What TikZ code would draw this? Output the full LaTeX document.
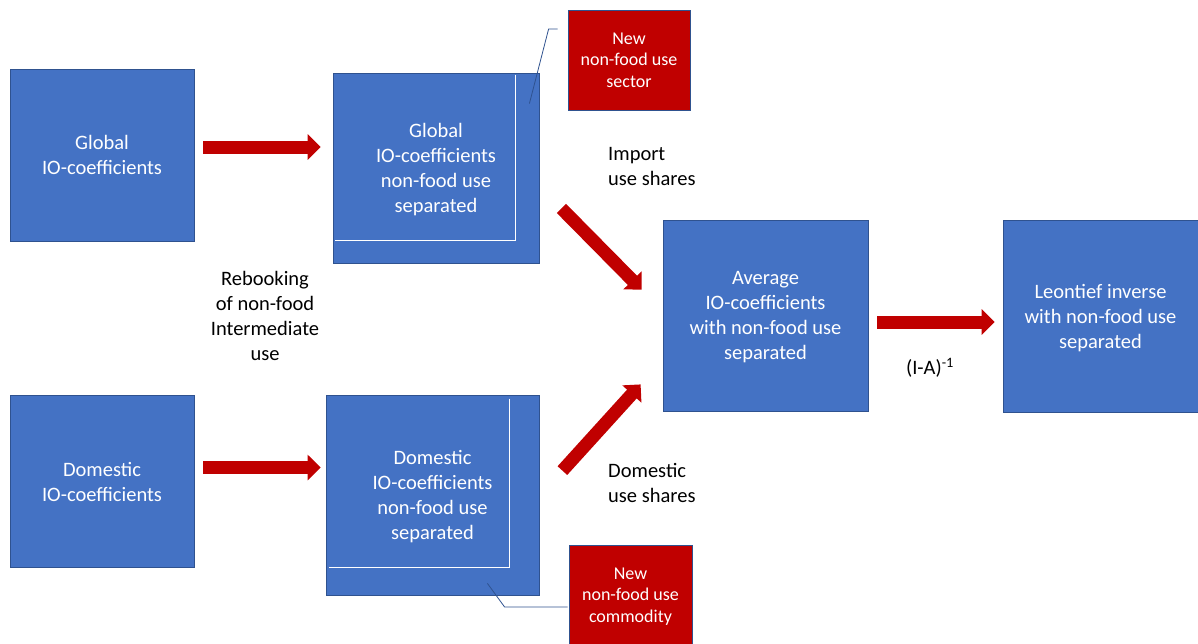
\documentclass[tikz,border=0pt]{standalone}
\usepackage{fontspec}
\setmainfont{Carlito}
\usepackage{tikz}
\usetikzlibrary{arrows.meta,positioning,calc}
\definecolor{iofill}{HTML}{4472C4}
\definecolor{iodraw}{HTML}{2F528F}
\definecolor{newred}{HTML}{C00000}
\definecolor{ink}{HTML}{000000}
\tikzset{
  iobox/.style={rectangle,draw=iodraw,line width=0.8pt,fill=iofill,text=white,
    align=center,font=\fontsize{20.5}{25}\selectfont,inner sep=0pt,text depth=0pt},
  newbox/.style={rectangle,draw=iodraw,line width=0.8pt,fill=newred,text=white,
    align=center,font=\fontsize{18}{21.5}\selectfont,inner sep=0pt,text depth=0pt,
    minimum width=122pt,minimum height=100pt},
  ioarr/.style={-{Triangle[length=13pt,width=25pt]},line width=13pt,color=newred},
  iolabel/.style={font=\fontsize{20.5}{25}\selectfont,text=ink,align=center,inner sep=0pt},
  sepline/.style={draw=white,line width=1pt},
  calloutline/.style={draw=iodraw,line width=0.8pt},
}
\begin{document}
\begin{tikzpicture}[x=1pt,y=-1pt]
  \useasboundingbox (0,0) rectangle (1198,643);
  % IO boxes
  \node[iobox,minimum width=184pt,minimum height=172pt] (glob) at (102,155) {Global\\IO-coefficients};
  \node[iobox,minimum width=184pt,minimum height=172pt] (dom) at (102,481.5) {Domestic\\IO-coefficients};
  \node[iobox,minimum width=206pt,minimum height=190pt] (gsep) at (436,168) {Global\\IO-coefficients\\non-food use\\separated};
  \node[iobox,minimum width=213pt,minimum height=200pt] (dsep) at (432.5,495) {Domestic\\IO-coefficients\\non-food use\\separated};
  \node[iobox,minimum width=205pt,minimum height=191pt] (avg) at (765.5,315.5) {Average\\IO-coefficients\\with non-food use\\separated};
  \node[iobox,minimum width=195pt,minimum height=192pt] (leon) at (1100.5,316) {Leontief inverse\\with non-food use\\separated};
  % inner lines of the separated blocks
  \draw[sepline] ([shift={(-24,2)}]gsep.north east) |- ([shift={(2,-23)}]gsep.south west);
  \draw[sepline] ([shift={(-30,4)}]dsep.north east) |- ([shift={(3,-28)}]dsep.south west);
  % new sector and commodity
  \node[newbox] (newsec) at (629,60) {New\\non-food use\\sector};
  \node[newbox,minimum width=123pt] (newcom) at (630.5,595) {New\\non-food use\\commodity};
  \draw[calloutline] ([shift={(-10,31)}]gsep.north east) -- ([shift={(-19,-31)}]newsec.west)
    -- ([shift={(-10,-31)}]newsec.west);
  \draw[calloutline] ([shift={(-52,-12)}]dsep.south east) -- ([shift={(-64,12)}]newcom.west)
    -- ([shift={(-1,12)}]newcom.west);
  % labels
  \node[iolabel] (rebook) at (265,316) {Rebooking\\of non-food\\Intermediate\\use};
  \node[iolabel,anchor=west,align=left] (impsh) at (608,166) {Import\\use shares};
  \node[iolabel,anchor=west,align=left] (domsh) at (608,483) {Domestic\\use shares};
  \node[iolabel] (inv) at (930,368) {(I-A)\textsuperscript{-1}};
  % arrows
  \draw[ioarr,shorten <=9pt,shorten >=12pt] ([shift={(0,-8)}]glob.east) -- ([shift={(0,-8)}]glob.east -| gsep.west);
  \draw[ioarr,shorten <=9pt,shorten >=5pt] ([shift={(0,-14)}]dom.east) -- ([shift={(0,-14)}]dom.east -| dsep.west);
  \draw[ioarr] ([shift={(22,-55)}]gsep.south east) -- ([shift={(-21,70)}]avg.north west);
  \draw[ioarr] ([shift={(23,76)}]dsep.north east) -- ([shift={(-22,-27)}]avg.south west);
  \draw[ioarr,shorten <=9pt,shorten >=8pt] ([shift={(0,6.5)}]avg.east) -- ([shift={(0,6.5)}]avg.east -| leon.west);
\end{tikzpicture}
\end{document}
